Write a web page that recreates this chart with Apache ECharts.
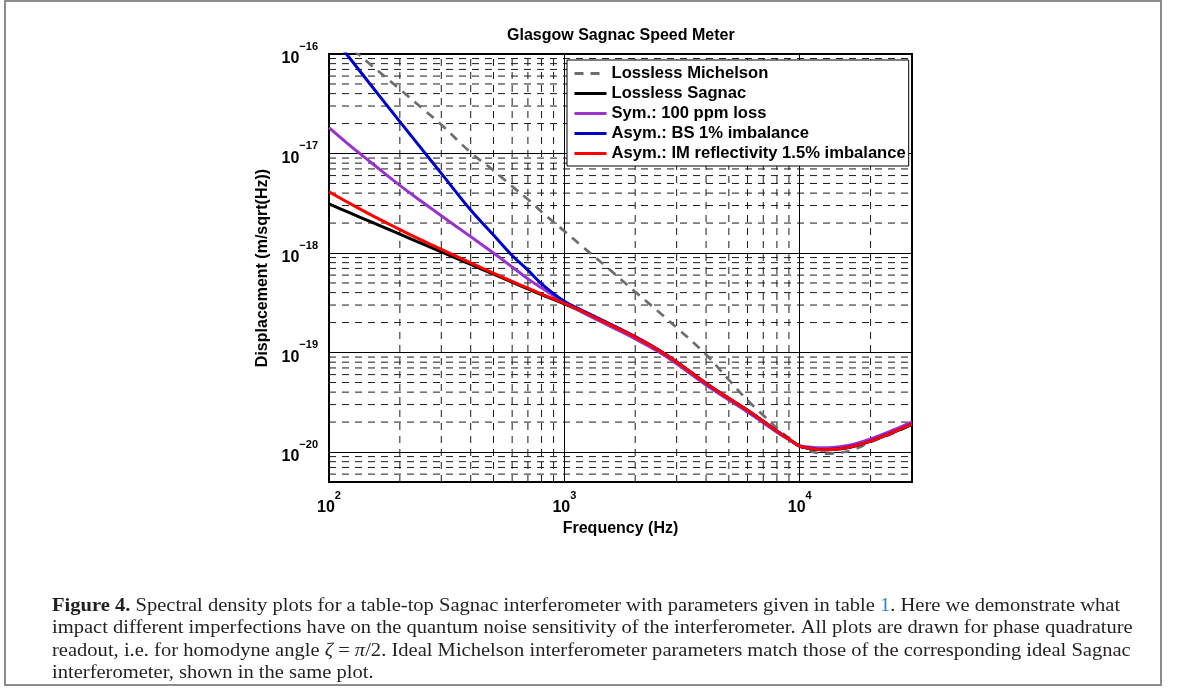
<!DOCTYPE html>
<html><head><meta charset="utf-8">
<script src="https://cdn.jsdelivr.net/npm/echarts@6/dist/echarts.min.js"></script>
<style>html,body{margin:0;padding:0;background:#fff}#c{width:1179px;height:689px}</style>
</head><body><div id="c"></div>
<script>
// ---- data ----
const freq = [100,120,150,200,250,300,400,500,600,700,800,1000,1200,1500,2000,2500,3000,4000,5000,6000,7000,8000,9000,10000,11000,12000,13000,15000,17000,20000,25000,30000];
const losslessMichelson = [1.762e-16,1.23e-16,7.85e-17,4.416e-17,2.818e-17,1.95e-17,1.023e-17,6.76e-18,4.677e-18,3.467e-18,2.6e-18,1.66e-18,1.148e-18,7.35e-19,4.074e-19,2.6e-19,1.778e-19,9.55e-20,5.31e-20,3.311e-20,2.344e-20,1.738e-20,1.38e-20,1.148e-20,1.023e-20,9.77e-21,9.66e-21,9.89e-21,1.059e-20,1.259e-20,1.549e-20,1.884e-20];
const losslessSagnac = [3.11e-18,2.588e-18,2.065e-18,1.545e-18,1.233e-18,1.026e-18,7.67e-19,6.12e-19,5.09e-19,4.365e-19,3.82e-19,3.09e-19,2.56e-19,1.99e-19,1.425e-19,1.064e-19,8.02e-20,4.89e-20,3.46e-20,2.625e-20,2.035e-20,1.618e-20,1.346e-20,1.145e-20,1.088e-20,1.06e-20,1.052e-20,1.082e-20,1.145e-20,1.285e-20,1.58e-20,1.9e-20];
const symLoss = [1.82e-17,1.259e-17,8.22e-18,4.786e-18,3.236e-18,2.371e-18,1.462e-18,1.0e-18,7.24e-19,5.5e-19,4.467e-19,3.2e-19,2.512e-19,1.928e-19,1.374e-19,1.023e-19,7.73e-20,4.71e-20,3.334e-20,2.529e-20,1.972e-20,1.585e-20,1.334e-20,1.161e-20,1.122e-20,1.102e-20,1.102e-20,1.135e-20,1.202e-20,1.355e-20,1.667e-20,2.01e-20];
const asymBS = [1.667e-16,9.66e-17,4.94e-17,2.089e-17,1.081e-17,6.32e-18,2.704e-18,1.514e-18,9.44e-19,6.73e-19,4.9e-19,3.273e-19,2.63e-19,2.032e-19,1.445e-19,1.072e-19,8.06e-20,4.91e-20,3.47e-20,2.632e-20,2.042e-20,1.624e-20,1.35e-20,1.149e-20,1.092e-20,1.063e-20,1.055e-20,1.085e-20,1.149e-20,1.289e-20,1.586e-20,1.906e-20];
const asymIM = [4.13e-18,3.236e-18,2.432e-18,1.722e-18,1.33e-18,1.086e-18,7.96e-19,6.28e-19,5.19e-19,4.43e-19,3.86e-19,3.126e-19,2.57e-19,1.995e-19,1.429e-19,1.067e-19,8.04e-20,4.9e-20,3.467e-20,2.63e-20,2.04e-20,1.622e-20,1.349e-20,1.148e-20,1.091e-20,1.062e-20,1.054e-20,1.084e-20,1.148e-20,1.288e-20,1.585e-20,1.905e-20];
const seriesNames = ['Lossless Michelson','Lossless Sagnac','Sym.: 100 ppm loss','Asym.: BS 1% imbalance','Asym.: IM reflectivity 1.5% imbalance'];

const xMin = 100, xMax = 30000, yMin = 5e-21, yMax = 1e-16;
const xTickValues = [100,1000,10000];
const xTickExps = ['2','3','4'];
const yTickValues = [1e-20,1e-19,1e-18,1e-17,1e-16];
const yTickExps = ['\u221220','\u221219','\u221218','\u221217','\u221216'];
const minorX = [200,300,400,500,600,700,800,900,2000,3000,4000,5000,6000,7000,8000,9000,20000];
const minorY = [6e-21,7e-21,8e-21,9e-21,2e-20,3e-20,4e-20,5e-20,6e-20,7e-20,8e-20,9e-20,2e-19,3e-19,4e-19,5e-19,6e-19,7e-19,8e-19,9e-19,2e-18,3e-18,4e-18,5e-18,6e-18,7e-18,8e-18,9e-18,2e-17,3e-17,4e-17,5e-17,6e-17,7e-17,8e-17,9e-17];

const titleText = 'Glasgow Sagnac Speed Meter';
const xName = 'Frequency (Hz)';
const yName = 'Displacement (m/sqrt(Hz))';
const captionLines = [
  '{b|Figure 4.} Spectral density plots for a table-top Sagnac interferometer with parameters given in table {l|1}. Here we demonstrate what',
  'impact different imperfections have on the quantum noise sensitivity of the interferometer. All plots are drawn for phase quadrature',
  'readout, i.e. for homodyne angle {i|\u03b6} = {i|\u03c0}/2. Ideal Michelson interferometer parameters match those of the corresponding ideal Sagnac',
  'interferometer, shown in the same plot.'
];

// ---- rendering ----
const SANS = '"Liberation Sans", Arial, Helvetica, sans-serif';
const SERIF = '"Liberation Serif", "Times New Roman", serif';
const CAP_SIZE = 18;
const FS = 16;

function pairs(ys){ return freq.map((f,i)=>[f, ys[i]]); }
function expLabel(vals, exps){
  return function(v){
    for (let i=0;i<vals.length;i++){
      if (Math.abs(Math.log10(v)-Math.log10(vals[i]))<1e-6) return '{b|10}{s|'+exps[i]+'}';
    }
    return '';
  };
}
const labelRich = {
  b:{fontSize:16,fontWeight:'bold',fontFamily:SANS,color:'#000',lineHeight:26,verticalAlign:'bottom'},
  s:{fontSize:11,fontWeight:'bold',fontFamily:SANS,color:'#000',lineHeight:10,verticalAlign:'top'}
};

// caption scale so the widest line matches the reference width
const ctx = document.createElement('canvas').getContext('2d');
ctx.font = CAP_SIZE+'px "Liberation Serif"';
const plain3 = captionLines[2].replace(/\{[a-z]\|([^}]*)\}/g,'$1');
const capScale = 1079 / ctx.measureText(plain3).width;

const capRich = {
  b:{fontWeight:'bold',fontSize:CAP_SIZE,fontFamily:SERIF,fill:'#231f20'},
  l:{fontSize:CAP_SIZE,fontFamily:SERIF,fill:'#2a87c8'},
  i:{fontStyle:'italic',fontSize:CAP_SIZE,fontFamily:SERIF,fill:'#231f20'}
};
const capY = [606,628.5,651,673.5];
const graphics = [
  {type:'rect',shape:{x:5,y:1,width:1156,height:684},style:{fill:'none',stroke:'#8c8c8c',lineWidth:2},silent:true,z:0},
];
captionLines.forEach((t,k)=>{
  graphics.push({type:'text',x:52,y:capY[k],scaleX:capScale,silent:true,
    style:{text:t,rich:capRich,fontSize:CAP_SIZE,fontFamily:SERIF,fill:'#231f20',align:'left',verticalAlign:'middle'}});
});

// minor grid lines as broken polylines through the axes' own scales
const gridV = [], gridH = [];
minorX.forEach(v=>{ gridV.push([v,yMin],[v,yMax],[v,'-']); });
minorY.forEach(v=>{ gridH.push([xMin,v],[xMax,v],[xMax,'-']); });
const gridStyle = {color:'#1a1a1a', width:1, type:[7,6]};

const colors = ['#6e6e6e','#000000','#9933cc','#0000cc','#ff0000'];
const datasets = [losslessMichelson, losslessSagnac, symLoss, asymBS, asymIM];
const series = datasets.map((d,i)=>({
  name: seriesNames[i], type:'line', data: pairs(d), symbol:'none', showSymbol:false, smooth:0.4,
  clip:true, z: 3+i, silent:true,
  lineStyle:{color:colors[i], width: i===0 ? 2.7 : 3, type: i===0 ? [9,7] : 'solid'},
  itemStyle:{color:colors[i]}
}));
series.unshift(
  {name:'_gridV', type:'line', data:gridV, z:1, silent:true, symbol:'none', showSymbol:false, connectNulls:false, lineStyle:gridStyle},
  {name:'_gridH', type:'line', data:gridH, z:1, silent:true, symbol:'none', showSymbol:false, connectNulls:false, lineStyle:gridStyle}
);

const chart = echarts.init(document.getElementById('c'), null, {renderer:'canvas'});
chart.setOption({
  animation:false,
  backgroundColor:'#fff',
  title:{text:titleText, left:502, top:23, textStyle:{fontSize:FS,fontWeight:'bold',fontFamily:SANS,color:'#000'}},
  grid:{left:329, top:54, right:267, bottom:207, show:true, borderColor:'#000', borderWidth:2, containLabel:false},
  legend:{data:seriesNames, orient:'vertical', left:567, top:60, itemWidth:32, itemHeight:16, itemGap:3,
    padding:[5,3,4,6], backgroundColor:'#fff', borderColor:'#000', borderWidth:1, borderRadius:0,
    itemStyle:{opacity:0}, lineStyle:{width:3},
    selectedMode:false, textStyle:{fontSize:16.6,lineHeight:16,fontWeight:'bold',fontFamily:SANS,color:'#000'}},
  xAxis:{type:'log', logBase:10, min:xMin, max:xMax,
    axisLine:{show:true,lineStyle:{color:'#000',width:2}}, axisTick:{show:false},
    axisLabel:{formatter:expLabel(xTickValues,xTickExps), rich:labelRich, margin:8, showMaxLabel:false, showMinLabel:true},
    splitLine:{show:true,lineStyle:{color:'#000',width:1}},
    name:xName, nameLocation:'middle', nameGap:38,
    nameTextStyle:{fontSize:FS,fontWeight:'bold',fontFamily:SANS,color:'#000'}},
  yAxis:{type:'log', logBase:10, min:yMin, max:yMax,
    axisLine:{show:true,lineStyle:{color:'#000',width:2}}, axisTick:{show:false},
    axisLabel:{formatter:expLabel(yTickValues,yTickExps), rich:labelRich, margin:11, showMinLabel:false, showMaxLabel:true},
    splitLine:{show:true,lineStyle:{color:'#000',width:1}},
    name:yName, nameLocation:'middle', nameGap:58,
    nameTextStyle:{fontSize:FS,fontWeight:'bold',fontFamily:SANS,color:'#000'}},
  series: series,
  graphic: graphics
});
</script></body></html>
